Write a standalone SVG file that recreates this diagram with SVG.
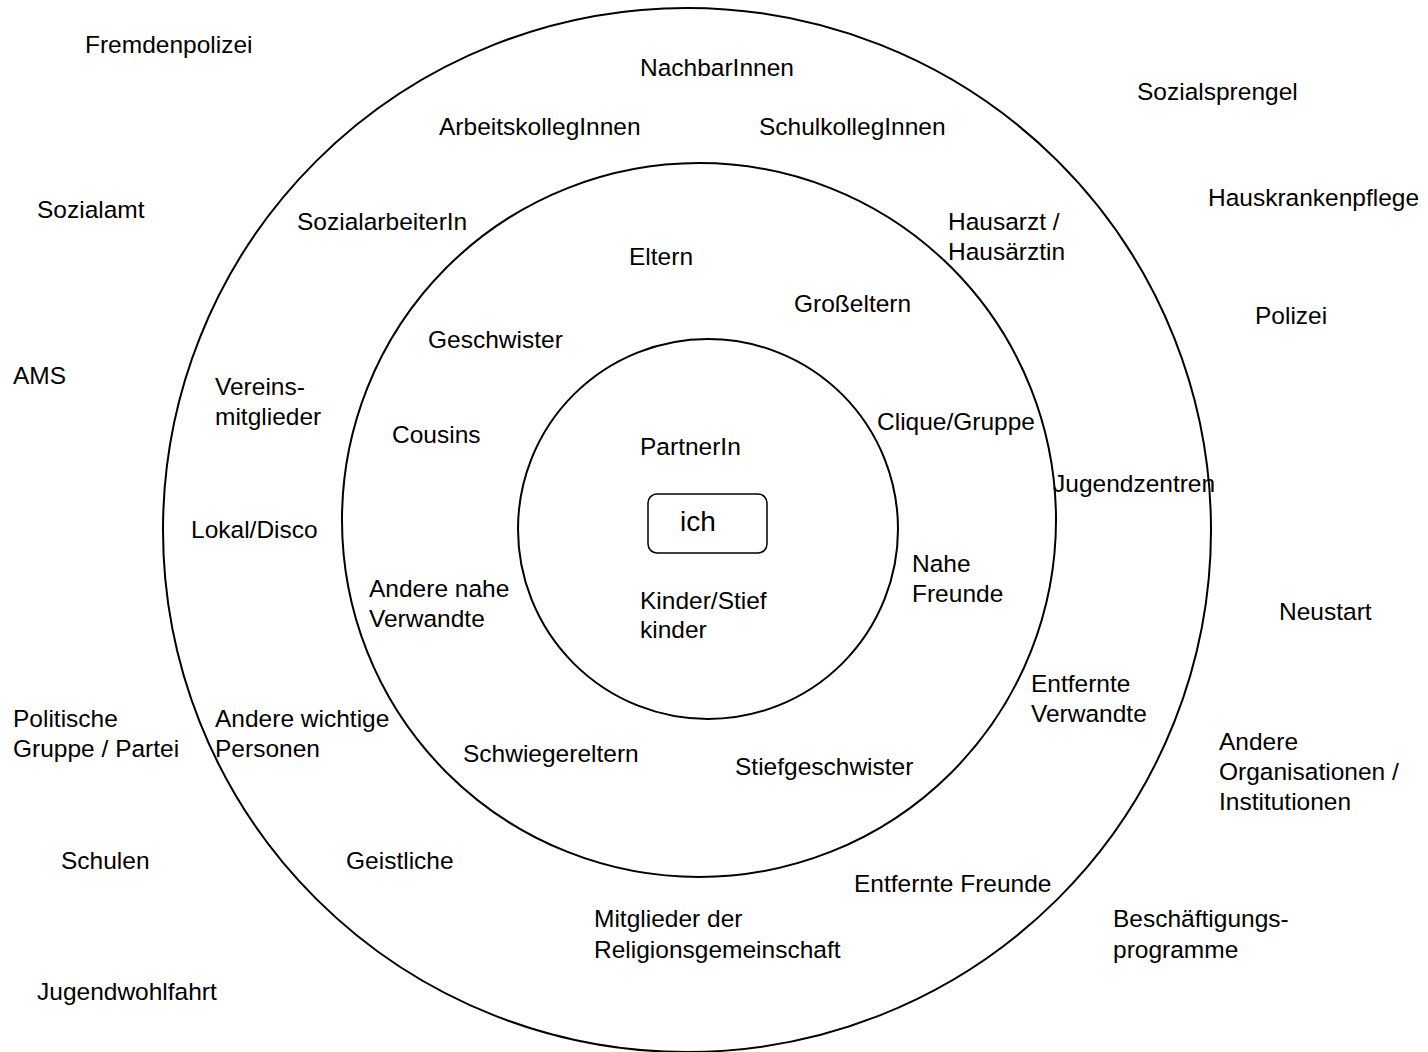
<svg xmlns="http://www.w3.org/2000/svg" width="1428" height="1052" viewBox="0 0 1428 1052">
<style>
.ring{fill:none;stroke:#000;stroke-width:2}
text{font-family:"Liberation Sans",Arial,sans-serif;font-size:24.5px;fill:#000}
.ich{font-size:28px}
</style>
<rect width="1428" height="1052" fill="#fff"/>
<g id="rings">
<ellipse id="ring-outer" class="ring" cx="687" cy="530" rx="524" ry="522"/>
<circle id="ring-middle" class="ring" cx="699" cy="520" r="357"/>
<circle id="ring-inner" class="ring" cx="708" cy="529" r="190"/>
</g>
<g id="connectors"></g>
<g id="ich"><rect x="648" y="494" width="119" height="59" rx="9" fill="#fff" stroke="#000" stroke-width="1.5"/><text class="ich" x="680" y="531">ich</text></g>
<g id="outside">
<g id="n-fremdenpolizei"><text x="85" y="53">Fremdenpolizei</text></g>
<g id="n-sozialamt"><text x="37" y="218">Sozialamt</text></g>
<g id="n-ams"><text x="13" y="384">AMS</text></g>
<g id="n-politische"><text x="13" y="727">Politische</text><text x="13" y="757">Gruppe / Partei</text></g>
<g id="n-schulen"><text x="61" y="869">Schulen</text></g>
<g id="n-jugendwohlfahrt"><text x="37" y="1000">Jugendwohlfahrt</text></g>
<g id="n-sozialsprengel"><text x="1137" y="100">Sozialsprengel</text></g>
<g id="n-hauskrankenpflege"><text x="1208" y="206">Hauskrankenpflege</text></g>
<g id="n-polizei"><text x="1255" y="324">Polizei</text></g>
<g id="n-neustart"><text x="1279" y="620">Neustart</text></g>
<g id="n-andere-org"><text x="1219" y="750">Andere</text><text x="1219" y="780">Organisationen /</text><text x="1219" y="810">Institutionen</text></g>
<g id="n-beschaeftigung"><text x="1113" y="927">Beschäftigungs-</text><text x="1113" y="958">programme</text></g>
</g>
<g id="outer-ring-labels">
<g id="n-nachbarinnen"><text x="640" y="76">NachbarInnen</text></g>
<g id="n-arbeitskolleginnen"><text x="439" y="135">ArbeitskollegInnen</text></g>
<g id="n-schulkolleginnen"><text x="759" y="135">SchulkollegInnen</text></g>
<g id="n-sozialarbeiterin"><text x="297" y="230">SozialarbeiterIn</text></g>
<g id="n-hausarzt"><text x="948" y="230">Hausarzt /</text><text x="948" y="260">Hausärztin</text></g>
<g id="n-vereinsmitglieder"><text x="215" y="395">Vereins-</text><text x="215" y="425">mitglieder</text></g>
<g id="n-lokal"><text x="191" y="538">Lokal/Disco</text></g>
<g id="n-jugendzentren"><text x="1053" y="492">Jugendzentren</text></g>
<g id="n-entfernte-verwandte"><text x="1031" y="692">Entfernte</text><text x="1031" y="722">Verwandte</text></g>
<g id="n-andere-wichtige"><text x="215" y="727">Andere wichtige</text><text x="215" y="757">Personen</text></g>
<g id="n-geistliche"><text x="346" y="869">Geistliche</text></g>
<g id="n-entfernte-freunde"><text x="854" y="892">Entfernte Freunde</text></g>
<g id="n-religion"><text x="594" y="927">Mitglieder der</text><text x="594" y="958">Religionsgemeinschaft</text></g>
</g>
<g id="middle-ring-labels">
<g id="n-eltern"><text x="629" y="265">Eltern</text></g>
<g id="n-grosseltern"><text x="794" y="312">Großeltern</text></g>
<g id="n-geschwister"><text x="428" y="348">Geschwister</text></g>
<g id="n-clique"><text x="877" y="430">Clique/Gruppe</text></g>
<g id="n-cousins"><text x="392" y="443">Cousins</text></g>
<g id="n-nahe-freunde"><text x="912" y="572">Nahe</text><text x="912" y="602">Freunde</text></g>
<g id="n-andere-nahe"><text x="369" y="597">Andere nahe</text><text x="369" y="627">Verwandte</text></g>
<g id="n-schwiegereltern"><text x="463" y="762">Schwiegereltern</text></g>
<g id="n-stiefgeschwister"><text x="735" y="775">Stiefgeschwister</text></g>
</g>
<g id="inner-ring-labels">
<g id="n-partnerin"><text x="640" y="455">PartnerIn</text></g>
<g id="n-kinder"><text x="640" y="609">Kinder/Stief</text><text x="640" y="638">kinder</text></g>
</g>
</svg>
